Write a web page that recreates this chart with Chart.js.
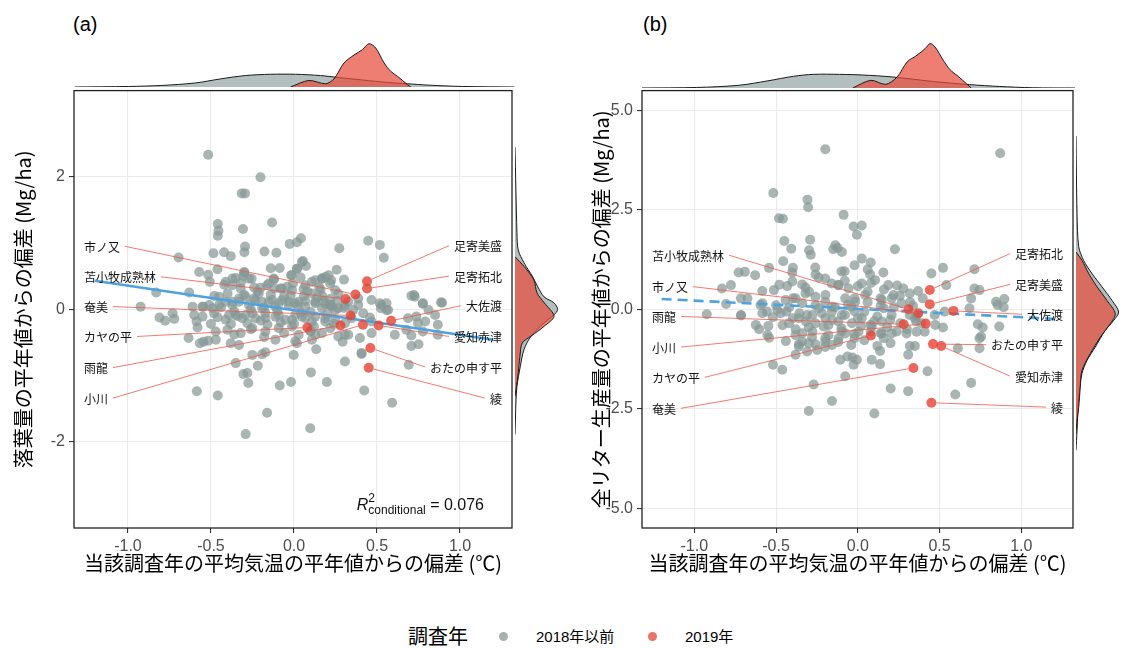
<!DOCTYPE html>
<html>
<head>
<meta charset="utf-8">
<script src="https://cdn.jsdelivr.net/npm/chart.js@4.4.0/dist/chart.umd.min.js"></script>
<style>
body{margin:0;background:#fff;width:1131px;height:648px;position:relative;overflow:hidden;font-family:"Liberation Sans","Noto Sans CJK JP",sans-serif;}
canvas{position:absolute;}
.t{position:absolute;line-height:1;color:#000;white-space:nowrap;}
.dot{position:absolute;width:9px;height:9px;border-radius:50%;}
</style>
</head>
<body>
<div class="t" style="left:73px;top:14px;font-size:20px">(a)</div>
<div class="t" style="left:643px;top:14px;font-size:20px">(b)</div>

<canvas id="topA" width="441" height="49" style="left:74px;top:38px"></canvas>
<canvas id="mainA" width="517" height="500" style="left:0px;top:77px"></canvas>
<canvas id="rightA" width="50" height="441" style="left:515px;top:87px"></canvas>

<canvas id="topB" width="434" height="50" style="left:642px;top:38px"></canvas>
<canvas id="mainB" width="493" height="500" style="left:585px;top:77px"></canvas>
<canvas id="rightB" width="55" height="440" style="left:1076px;top:88px"></canvas>

<div class="t" style="left:408px;top:626px;font-size:20px;font-family:'Noto Sans CJK JP'">調査年</div>
<div class="dot" style="left:499px;top:632px;background:rgba(135,152,150,0.75)"></div>
<div class="t" style="left:536px;top:629px;font-size:15px">2018年以前</div>
<div class="dot" style="left:648px;top:632px;background:rgba(228,70,55,0.75)"></div>
<div class="t" style="left:685px;top:629px;font-size:15px">2019年</div>

<script>
////Axis ticks
const xTicks = [-1.0, -0.5, 0.0, 0.5, 1.0];
const yTicksA = [-2, 0, 2];
const yTicksB = [-5.0, -2.5, 0.0, 2.5, 5.0];

////2019 sites (same temperature deviation in both panels)
const sites = ['足寄美盛', '足寄拓北', '市ノ又', '苫小牧成熟林', '奄美', 'カヤの平', '雨龍', '小川', '愛知赤津', '大佐渡', 'おたの申す平', '綾'];
const temp2019 = [0.44, 0.44, 0.37, 0.31, 0.34, 0.08, 0.28, 0.415, 0.51, 0.585, 0.46, 0.45];
const litter2019 = [0.424, 0.314, 0.224, 0.155, -0.094, -0.274, -0.244, -0.233, -0.244, -0.173, -0.583, -0.882];
const total2019 = [0.125, 0.485, -0.1, 0.0, -1.475, -0.66, -0.375, -0.36, -0.925, -0.04, -0.875, -2.35];

////Label layout (side of panel, label height in data units)
const sideA = ['R', 'R', 'L', 'L', 'L', 'L', 'L', 'L', 'R', 'R', 'R', 'R'];
const labelYA = [0.96, 0.50, 0.95, 0.49, 0.04, -0.41, -0.88, -1.34, -0.41, 0.055, -0.87, -1.34];
const sideB = ['R', 'R', 'L', 'L', 'L', 'L', 'L', 'L', 'R', 'R', 'R', 'R'];
const labelYB = [0.625, 1.4, 0.57, 1.36, -2.49, -1.71, -0.18, -0.95, -1.68, -0.125, -0.89, -2.46];

////Years up to 2018, panel (a): temperature deviation / litterfall deviation
const prevTempA = [
-0.517,-0.202,-0.315,-0.295,-0.132,-0.459,-0.455,-0.459,-0.307,0.447,
0.517,0.541,-0.026,0.018,0.042,-0.178,-0.106,-0.485,-0.421,-0.381,
-0.695,-0.295,-0.299,0.273,0.054,0.072,0.018,-0.086,0.257,-0.571,
-0.517,-0.461,-0.299,-0.305,-0.255,-0.122,0.168,0.188,0.224,0.301,
-0.371,-0.351,-0.411,-0.507,-0.018,-0.006,0.108,0.152,0.218,0.248,
-0.830,-0.631,-0.321,-0.202,-0.162,-0.118,-0.082,-0.012,0.058,0.108,
0.170,0.267,0.387,0.467,0.557,0.517,0.707,0.723,0.776,0.892,
-0.924,-0.611,-0.547,-0.491,-0.451,-0.371,-0.331,-0.291,-0.242,-0.192,
-0.132,-0.092,-0.032,0.008,0.068,0.128,0.188,0.228,0.267,0.307,
0.357,0.417,0.457,0.523,0.567,-0.810,-0.776,-0.721,-0.731,-0.601,
-0.587,-0.551,-0.481,-0.411,-0.351,-0.291,-0.232,-0.172,-0.112,-0.052,
0.008,0.068,0.128,0.188,0.248,0.307,0.347,0.467,0.737,0.790,
0.747,0.850,0.866,0.810,-0.581,-0.471,-0.401,-0.321,-0.251,-0.172,
-0.092,-0.012,0.028,0.098,0.168,0.218,0.267,0.327,0.397,0.677,
0.707,0.776,0.866,-0.635,-0.471,-0.112,0.108,0.467,0.607,
-0.567,-0.545,-0.517,-0.381,-0.331,-0.351,-0.305,-0.281,-0.275,-0.251,
-0.218,-0.192,-0.172,-0.162,-0.291,-0.585,-0.459,-0.086,-0.018,-0.002,
0.018,0.102,0.098,0.134,0.198,0.307,0.293,0.407,0.423,0.591,
0.691,0.707,0.750,
-0.411,-0.371,-0.331,-0.271,-0.232,-0.192,-0.152,-0.112,-0.072,-0.032,
0.028,0.068,0.128,0.168,0.218,0.248,-0.391,-0.311,-0.251,-0.172,
-0.092,-0.012,0.048,0.108,0.188,-0.451,-0.511,-0.551,-0.212,-0.072,
0.068,0.128,0.168,0.208,0.018,0.048,-0.012,-0.152,-0.271,-0.371,
0.327,0.387,0.527,0.557,0.727,0.776,0.886,0.687,0.307,0.407,
0.128,0.008,
-0.48,-0.44,-0.40,-0.36,-0.30,-0.26,-0.22,-0.18,-0.14,-0.10,
-0.06,-0.02,0.02,0.06,0.10,0.14,0.18,0.22,0.26,0.30,
-0.46,-0.38,-0.34,-0.28,-0.20,-0.16,-0.08,0.00,0.04,0.12,
0.20,0.24,-0.42,-0.32,-0.24,-0.12,-0.04,0.08,0.16,-0.36,
-0.26,-0.18,-0.06,0.10,-0.50,-0.30,-0.14,0.04,0.22];
const prevLitterA = [
2.332,1.993,1.749,1.749,1.310,1.286,1.186,1.111,1.211,1.036,
0.972,0.777,0.987,1.011,1.071,0.872,0.852,0.847,0.862,0.802,
0.782,0.947,0.862,0.922,0.727,0.653,0.613,0.623,0.598,0.563,
0.523,0.603,0.563,0.503,0.463,0.463,0.463,0.488,0.438,0.448,
0.463,0.473,0.414,0.414,0.513,0.389,0.414,0.329,0.389,0.289,
0.254,0.254,0.314,0.324,0.364,0.314,0.314,0.289,0.304,0.239,
0.199,0.239,0.164,0.140,0.090,0.090,0.204,0.214,0.085,0.100,
0.040,0.040,0.040,0.015,0.065,0.115,0.164,0.189,0.164,0.115,
0.140,0.090,0.115,0.090,0.125,0.115,0.075,0.040,0.015,0.055,
-0.010,-0.060,-0.125,0.015,-0.010,-0.125,-0.174,-0.144,-0.060,-0.085,
-0.184,-0.110,-0.060,-0.159,-0.085,-0.085,-0.135,-0.060,-0.110,-0.159,
-0.085,-0.135,-0.110,-0.184,-0.159,-0.209,-0.135,-0.184,-0.110,-0.184,
-0.209,-0.085,-0.234,-0.010,-0.274,-0.334,-0.309,-0.359,-0.284,-0.334,
-0.284,-0.259,-0.384,-0.324,-0.359,-0.284,-0.409,-0.384,-0.433,-0.309,
-0.394,-0.334,-0.384,-0.433,-0.458,-0.458,-0.458,-0.359,-0.384,
-0.513,-0.488,-0.473,-0.513,-0.538,-0.812,-0.977,-0.962,-1.111,-0.688,
-0.852,-0.678,-0.648,-1.560,-1.883,-1.236,-1.300,-1.151,-1.096,-0.688,
-0.513,-0.952,-1.794,-0.603,-1.096,-0.787,-0.488,-0.673,-1.226,-1.410,
-0.837,-0.553,-0.528,
0.115,0.065,0.115,0.065,0.140,0.015,0.115,0.040,0.140,0.065,
0.115,0.040,0.090,0.015,0.065,-0.010,-0.085,-0.135,-0.060,-0.135,
-0.085,-0.159,-0.110,-0.184,-0.135,0.189,0.065,0.040,0.239,0.314,
0.364,0.438,0.463,0.513,0.613,0.712,0.513,0.389,0.463,0.364,
0.115,0.065,0.065,-0.010,0.189,0.090,0.105,-0.135,-0.384,-0.658,
-0.384,-0.483,
0.20,0.03,0.24,-0.03,0.22,0.00,0.27,0.02,0.22,-0.02,
0.19,0.21,0.05,0.20,-0.04,0.18,0.12,0.16,0.13,0.02,
-0.12,-0.22,-0.10,-0.21,-0.17,-0.23,-0.20,-0.22,-0.05,-0.26,
-0.08,-0.22,0.37,0.40,0.33,0.45,0.34,0.27,0.30,-0.38,
-0.30,-0.42,-0.36,-0.33,-0.22,0.55,0.62,0.48,0.06];

////Years up to 2018, panel (b): temperature deviation / total litter deviation
const prevTempB = [
-0.199,0.871,-0.517,-0.308,-0.304,-0.482,-0.458,-0.087,-0.026,0.024,
-0.006,-0.450,-0.292,-0.407,-0.298,-0.288,-0.456,-0.138,-0.124,-0.150,
-0.097,0.227,-0.543,-0.729,-0.691,-0.628,-0.397,-0.401,-0.020,0.024,
0.079,-0.081,0.075,0.156,0.521,0.713,0.450,-0.831,-0.776,-0.584,
-0.513,-0.432,-0.340,-0.259,-0.199,-0.118,-0.057,0.024,0.105,0.186,
0.257,0.318,0.369,0.541,0.713,0.693,0.744,0.845,0.896,
-0.806,-0.715,-0.584,-0.492,-0.442,-0.381,-0.320,-0.259,-0.199,-0.158,
-0.077,-0.016,0.045,0.146,0.207,0.267,0.338,0.470,0.531,0.683,
0.855,0.892,-0.924,-0.715,-0.584,-0.624,-0.604,-0.547,-0.472,-0.421,
-0.361,-0.310,-0.259,-0.209,-0.158,-0.097,-0.036,0.024,0.085,0.146,
0.207,0.349,0.389,0.474,0.521,0.734,0.764,0.865,0.754,
-0.553,-0.543,-0.381,-0.361,-0.340,-0.300,-0.249,-0.381,-0.310,-0.259,
-0.199,-0.158,-0.118,-0.077,0.004,0.146,0.207,0.298,0.359,0.409,
0.744,0.612,0.744,0.318,0.349,0.308,0.136,0.085,0.136,-0.032,
-0.006,-0.107,-0.063,-0.026,-0.077,-0.270,-0.158,-0.300,0.101,0.201,
0.308,0.426,0.596,0.693,-0.519,-0.462,
-0.437,-0.397,-0.357,-0.317,-0.278,-0.238,-0.198,-0.159,-0.119,-0.079,
-0.040,0.0,0.040,0.079,0.119,0.159,0.198,-0.397,-0.298,-0.198,
-0.119,-0.020,0.060,0.139,0.218,0.278,-0.278,-0.198,-0.099,-0.020,
0.079,0.159,0.238,0.317,0.357,0.397,-0.595,-0.556,-0.675,-0.714,
-0.50,-0.46,-0.42,-0.38,-0.34,-0.30,-0.26,-0.22,-0.18,-0.14,
-0.10,-0.06,-0.02,0.02,0.06,0.10,0.14,0.18,0.22,0.26,
-0.48,-0.40,-0.32,-0.24,-0.16,-0.08,0.00,0.08,0.16,0.24,
0.32,-0.44,-0.36,-0.28,-0.20,-0.12,-0.04,0.04,0.12,0.20,
-0.52,-0.34,-0.18,-0.02,0.14,0.30,-0.26,-0.10,0.06,0.36];
const prevTotalB = [
4.025,3.925,2.925,2.758,2.567,2.292,2.275,2.375,2.083,2.108,
1.875,1.717,1.750,1.525,1.483,1.375,1.208,1.608,1.542,1.508,
1.442,1.508,1.042,0.925,0.942,0.858,1.042,0.925,1.108,1.275,
1.175,0.958,0.875,0.925,1.042,1.008,0.900,0.525,0.608,0.458,
0.483,0.583,0.625,0.875,0.775,0.608,0.525,0.650,0.733,0.608,
0.342,0.400,0.458,0.608,0.525,0.275,0.483,0.192,0.258,
0.133,0.275,0.150,-0.017,0.233,0.275,0.400,0.317,0.192,0.067,
0.275,0.192,0.358,0.233,0.275,0.150,0.083,-0.142,-0.058,0.025,
0.108,0.050,-0.125,-0.158,-0.100,-0.392,-0.500,-0.417,-0.100,-0.350,
-0.225,-0.142,-0.350,-0.433,-0.267,-0.142,-0.350,-0.225,-0.433,-0.308,
-0.142,-0.225,-0.350,-0.392,-0.458,-0.375,-0.458,-0.433,-0.683,
-0.647,-0.714,-0.647,-0.938,-0.813,-0.855,-1.021,-1.145,-1.062,-0.880,
-0.813,-0.896,-0.730,-0.606,-0.564,-0.606,-0.606,-0.606,-0.564,-0.564,
-0.730,-0.979,-0.979,-0.921,-0.921,-1.145,-1.046,-1.270,-1.378,-1.212,
-1.270,-1.270,-1.187,-1.394,-1.685,-1.892,-2.307,-2.556,-2.622,-1.992,
-2.058,-1.560,-2.141,-1.851,-1.394,-1.519,
-0.058,-0.225,-0.100,-0.308,-0.142,0.025,-0.225,-0.058,-0.308,-0.142,
0.067,-0.225,-0.058,-0.392,-0.183,0.025,-0.267,0.275,0.442,0.358,
0.608,0.275,0.442,0.275,0.358,0.525,-0.558,-0.725,-0.558,-0.725,
-0.558,-0.725,-0.558,-0.142,-0.308,0.275,0.108,-0.058,0.275,-0.142,
0.10,-0.40,0.05,-0.50,0.15,-0.45,0.10,-0.10,-0.40,0.05,
-0.48,0.12,-0.05,-0.42,0.18,-0.30,0.08,-0.45,0.05,-0.35,
0.62,0.70,0.55,0.80,0.65,0.72,0.58,0.66,0.50,0.60,
0.18,-0.80,-0.88,-0.70,-0.95,-0.82,-0.90,-0.78,-0.92,-0.85,
-0.20,-0.60,-0.65,-0.62,-0.60,-0.50,1.05,0.95,1.00,-0.15];

////Fitted lines (end points)
const fitXA = [-1.2, 1.2], fitYA = [0.43, -0.46];
const fitXB = [-1.2, 1.2], fitYB = [0.26, -0.24];
const r2Text = '0.076';

////Marginal densities
const topXGreyA = [-1.32,-1.0,-0.8,-0.6,-0.45,-0.3,-0.15,0,0.15,0.25,0.4,0.55,0.67,0.8,1.0,1.31];
const topGreyA = [0,0.04,0.12,0.31,0.62,0.88,0.98,0.98,0.88,0.74,0.54,0.35,0.25,0.14,0.04,0];
const topXRedA = [-0.03,0.08,0.18,0.23,0.29,0.35,0.40,0.44,0.48,0.53,0.57,0.61,0.67,0.69];
const topRedA = [0,0.5,0.25,0.62,1.85,2.46,2.87,3.33,3.0,1.85,1.2,0.82,0.18,0];
const rightYGreyA = [2.4,1.12,0.86,0.67,0.46,0.31,0.16,0.07,-0.03,-0.11,-0.23,-0.43,-0.63,-0.88,-1.18,-1.38,-1.9];
const rightGreyA = [0,0.15,0.25,0.69,1.36,1.75,2.23,3.0,3.28,3.0,2.23,1.23,0.69,0.41,0.15,0.08,0];
const rightYRedA = [0.76,0.61,0.41,0.22,0.07,-0.13,-0.28,-0.43,-0.53,-0.73,-0.98,-1.23,-1.33];
const rightRedA = [0,0.72,1.46,1.69,2.25,3.0,2.25,1.23,0.56,0.38,0.25,0.08,0];

const topXGreyB = [-1.32,-0.99,-0.73,-0.56,-0.40,-0.28,-0.12,0.02,0.20,0.45,0.67,0.85,1.05,1.31];
const topGreyB = [0,0.04,0.21,0.54,0.9,1.05,1.05,1.0,0.85,0.5,0.26,0.12,0.02,0];
const topXRedB = [-0.04,0.07,0.16,0.23,0.29,0.35,0.40,0.43,0.46,0.51,0.55,0.60,0.65,0.68];
const topRedB = [0,0.59,0.28,0.85,2.0,2.52,3.03,3.42,3.15,2.13,1.42,0.9,0.34,0];
const rightYGreyB = [4.3,2.36,1.53,1.19,0.86,0.53,0.19,-0.1,-0.31,-0.56,-0.98,-1.31,-1.64,-2.23,-3.06,-3.56];
const rightGreyB = [0,0.08,0.21,0.59,1.23,2.0,2.77,3.28,2.9,2.25,1.48,0.85,0.46,0.21,0.08,0];
const rightYRedB = [1.4,1.19,0.86,0.53,0.19,-0.14,-0.39,-0.73,-1.14,-1.56,-1.98,-2.48,-2.81,-3.14];
const rightRedB = [0,0.46,0.98,1.62,2.38,3.02,2.64,1.87,1.1,0.46,0.33,0.21,0.08,0];

////Colours
const GREY_PT = 'rgba(135,152,150,0.72)';
const RED_PT = 'rgba(228,70,55,0.82)';
const GREY_FILL = 'rgba(149,165,166,0.72)';
const RED_FILL = 'rgba(231,76,60,0.72)';
const BLUE = 'rgb(77,163,224)';
const SEG = 'rgba(236,90,76,0.8)';

Chart.defaults.font.family = '"Liberation Sans", "Noto Sans CJK JP", sans-serif';
Chart.defaults.animation = false;

const pts = (xs, ys) => xs.map((v, i) => ({x: v, y: ys[i]}));

//panel border, site labels with leader lines, optional R2 note
const panelPlugin = {
    id: 'panel',
    afterDatasetsDraw(chart, args, o) {
        const {ctx, chartArea: a, scales: {x, y}} = chart;
        ctx.save();
        ctx.font = '12px "Noto Sans CJK JP"';
        ctx.textBaseline = 'middle';
        o.names.forEach((name, i) => {
            const px = x.getPixelForValue(o.xs[i]);
            const py = y.getPixelForValue(o.ys[i]);
            const ly = y.getPixelForValue(o.labelY[i]);
            const w = ctx.measureText(name).width;
            let tx, lx;
            if (o.side[i] === 'L') {
                tx = a.left + 10; ctx.textAlign = 'left'; lx = tx + w + 5;
            } else {
                tx = a.right - 10; ctx.textAlign = 'right'; lx = tx - w - 5;
            }
            const dx = px - lx, dy = py - ly, len = Math.hypot(dx, dy);
            ctx.strokeStyle = SEG;
            ctx.lineWidth = 1;
            ctx.beginPath();
            ctx.moveTo(lx, ly);
            ctx.lineTo(px - dx / len * 5, py - dy / len * 5);
            ctx.stroke();
            ctx.fillStyle = '#111';
            ctx.fillText(name, tx, ly + 1);
        });
        if (o.r2) {
            ctx.textBaseline = 'alphabetic';
            ctx.textAlign = 'left';
            const base = a.bottom - 18;
            const parts = [
                ['italic 16px "Liberation Sans"', 'R', 0],
                ['12px "Liberation Sans"', '2', -8],
                ['12px "Liberation Sans"', 'conditional', 4],
                ['16px "Liberation Sans"', ' = ' + o.r2, 0]
            ];
            let total = 0;
            parts.forEach((p, k) => { ctx.font = p[0]; if (k !== 1) total += ctx.measureText(p[1]).width; });
            let cx = a.right - 28 - total;
            parts.forEach((p, k) => {
                ctx.font = p[0];
                ctx.fillText(p[1], cx, base + p[2]);
                //subscript starts under the superscript
                cx += k === 1 ? 0 : ctx.measureText(p[1]).width;
            });
        }
        ctx.strokeStyle = '#222';
        ctx.lineWidth = 1.3;
        ctx.strokeRect(a.left, a.top, a.right - a.left, a.bottom - a.top);
        ctx.restore();
    }
};

function mainChart(id, o) {
    return new Chart(document.getElementById(id), {
        type: 'scatter',
        data: {
            datasets: [
                {data: pts(temp2019, o.red), pointRadius: 5, pointBackgroundColor: RED_PT, pointBorderWidth: 0, order: 0},
                {data: pts(o.fitX, o.fitY), showLine: true, pointRadius: 0, borderColor: BLUE, borderWidth: 2.6, borderDash: o.dash, order: 1},
                {data: pts(o.greyX, o.greyY), pointRadius: 5, pointBackgroundColor: GREY_PT, pointBorderWidth: 0, order: 2}
            ]
        },
        options: {
            responsive: false,
            events: [],
            layout: {padding: {top: o.padTop, right: 2, left: 0, bottom: 0}},
            plugins: {
                legend: {display: false},
                tooltip: {enabled: false},
                panel: {names: sites, xs: temp2019, ys: o.red, labelY: o.labelY, side: o.side, r2: o.r2}
            },
            scales: {
                x: {
                    type: 'linear', min: o.xMin, max: o.xMax,
                    afterBuildTicks: s => { s.ticks = xTicks.map(v => ({value: v})); },
                    afterFit: s => { s.height = 49; },
                    grid: {color: '#EBEBEB', lineWidth: 1.1, tickLength: 5, tickColor: '#333'},
                    border: {display: false},
                    ticks: {color: '#4D4D4D', font: {size: 16}, padding: 4, maxRotation: 0, autoSkip: false,
                        callback: v => v.toFixed(1)},
                    title: {display: true, text: '当該調査年の平均気温の平年値からの偏差 (℃)', color: '#000',
                        font: {family: '"Noto Sans CJK JP"', size: 20}, padding: {top: 0, bottom: 2}}
                },
                y: {
                    type: 'linear', min: o.yMin, max: o.yMax,
                    afterBuildTicks: s => { s.ticks = o.yTicks.map(v => ({value: v})); },
                    afterFit: s => { s.width = o.yWidth; },
                    grid: {color: '#EBEBEB', lineWidth: 1.1, tickLength: 5, tickColor: '#333'},
                    border: {display: false},
                    ticks: {color: '#4D4D4D', font: {size: 16}, padding: 4, autoSkip: false, callback: o.yFmt},
                    title: {display: true, text: o.yTitle, color: '#000',
                        font: {family: '"Noto Sans CJK JP"', size: 20}, padding: {top: o.titlePad, bottom: 0}}
                }
            }
        },
        plugins: [panelPlugin]
    });
}

function densityChart(id, grey, red, xr, yr) {
    const ds = (data, fill, order) => ({
        data, showLine: true, fill: 'shape', backgroundColor: fill, borderColor: '#1a1a1a',
        borderWidth: 1, pointRadius: 0, tension: 0.3, order
    });
    return new Chart(document.getElementById(id), {
        type: 'scatter',
        data: {datasets: [ds(red, RED_FILL, 0), ds(grey, GREY_FILL, 1)]},
        options: {
            responsive: false,
            events: [],
            layout: {padding: 0},
            plugins: {legend: {display: false}, tooltip: {enabled: false}},
            scales: {
                x: {type: 'linear', min: xr[0], max: xr[1], display: false},
                y: {type: 'linear', min: yr[0], max: yr[1], display: false}
            }
        }
    });
}

////Panel (a)
const xRangeA = [-1.325, 1.313], yRangeA = [-3.3, 3.3];
mainChart('mainA', {
    red: litter2019, greyX: prevTempA, greyY: prevLitterA,
    fitX: fitXA, fitY: fitYA, dash: [],
    labelY: labelYA, side: sideA, r2: r2Text,
    xMin: xRangeA[0], xMax: xRangeA[1], yMin: yRangeA[0], yMax: yRangeA[1],
    yTicks: yTicksA, yFmt: v => String(v), yWidth: 74, padTop: 10, titlePad: 11,
    yTitle: '落葉量の平年値からの偏差 (Mg/ha)'
});
densityChart('topA', pts(topXGreyA, topGreyA), pts(topXRedA, topRedA), xRangeA, [0, 49 / 13]);
densityChart('rightA', pts(rightGreyA, rightYGreyA), pts(rightRedA, rightYRedA), [0, 50 / 13], yRangeA);

////Panel (b)
const xRangeB = [-1.32, 1.316], yRangeB = [-5.5, 5.5];
mainChart('mainB', {
    red: total2019, greyX: prevTempB, greyY: prevTotalB,
    fitX: fitXB, fitY: fitYB, dash: [10, 6],
    labelY: labelYB, side: sideB, r2: null,
    xMin: xRangeB[0], xMax: xRangeB[1], yMin: yRangeB[0], yMax: yRangeB[1],
    yTicks: yTicksB, yFmt: v => v.toFixed(1), yWidth: 57, padTop: 11, titlePad: 4,
    yTitle: '全リター生産量の平年値からの偏差 (Mg/ha)'
});
densityChart('topB', pts(topXGreyB, topGreyB), pts(topXRedB, topRedB), xRangeB, [0, 50 / 13]);
densityChart('rightB', pts(rightGreyB, rightYGreyB), pts(rightRedB, rightYRedB), [0, 55 / 13], yRangeB);
</script>
</body>
</html>
